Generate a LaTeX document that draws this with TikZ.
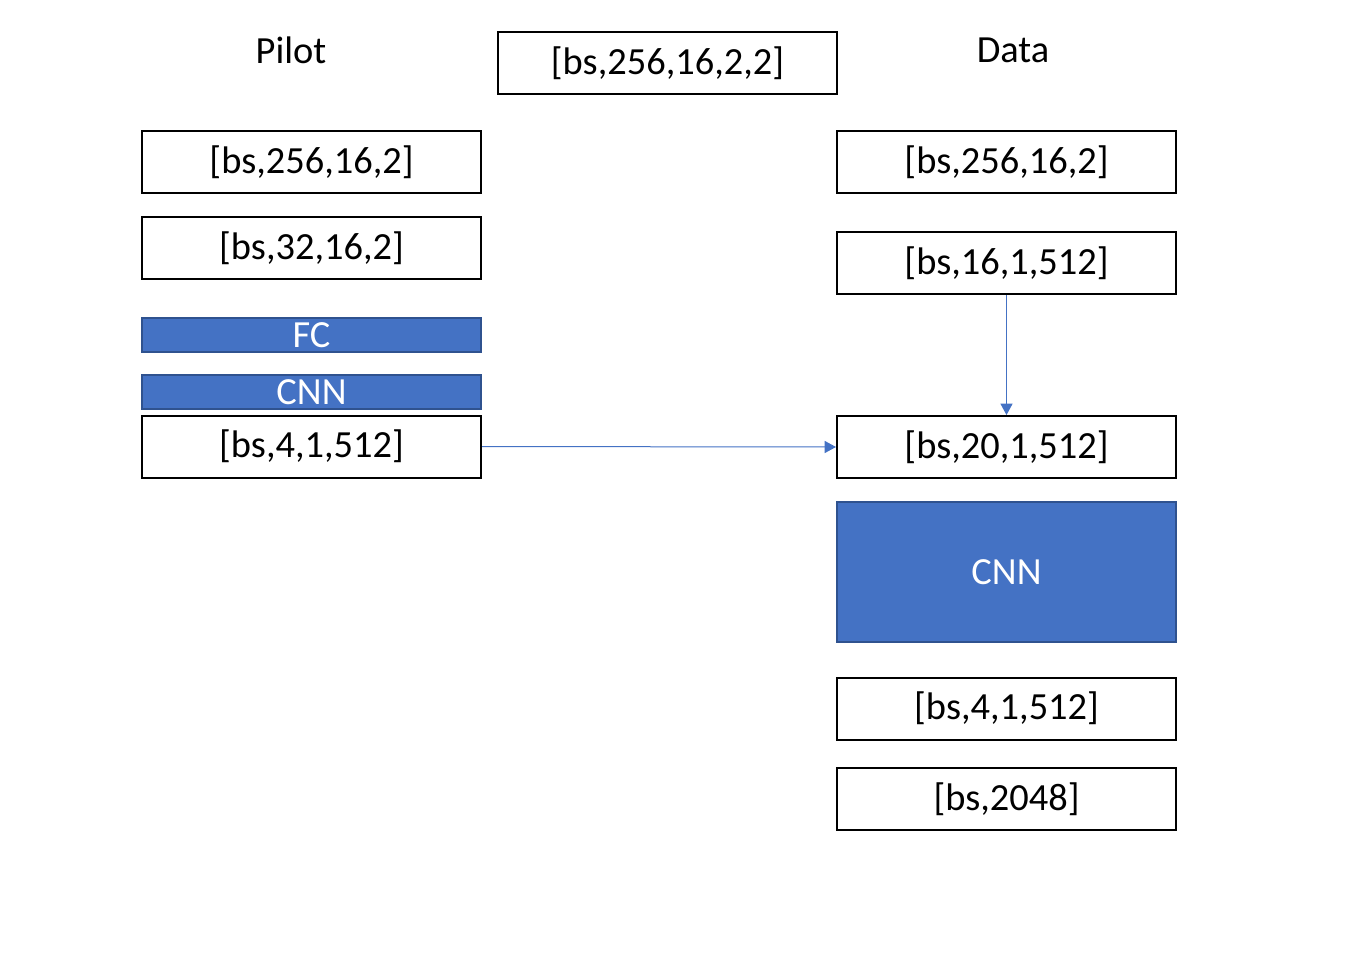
\documentclass[tikz,border=0pt]{standalone}
\usepackage{fontspec}
\setmainfont{Carlito}
\usetikzlibrary{arrows.meta}

\definecolor{layerblue}{HTML}{4472C4}
\definecolor{layeredge}{HTML}{2F528F}

\begin{document}
\begin{tikzpicture}[x=0.75pt, y=-0.75pt,
    every node/.style={font=\fontsize{28.8}{34}\selectfont},
    shapebox/.style={draw=black, fill=white, line width=1.5pt, inner sep=0pt,
        minimum width=254.25pt, minimum height=46.5pt},
    layerbar/.style={draw=layeredge, fill=layerblue, text=white, line width=1pt, inner sep=0pt,
        minimum width=254.25pt, minimum height=25.5pt},
    flow/.style={draw=layerblue, line width=0.75pt, -{Triangle[length=8.5pt, width=9pt]}}]

    \useasboundingbox (0,0) rectangle (1348,972);

    % headings
    \node (pilot) at (291,50) {Pilot};
    \node (data) at (1013,50) {Data};
    \node[shapebox] (input) at (667.5,63) {[bs,256,16,2,2]};

    % pilot branch
    \node[shapebox] (p1) at (311.5,162) {[bs,256,16,2]};
    \node[shapebox] (p2) at (311.5,248) {[bs,32,16,2]};
    \node[layerbar] (pfc) at (311.5,335) {FC};
    \node[layerbar] (pcnn) at (311.5,392) {CNN};
    \node[shapebox] (p3) at (311.5,446.5) {[bs,4,1,512]};

    % data branch
    \node[shapebox] (d1) at (1006.5,162) {[bs,256,16,2]};
    \node[shapebox] (d2) at (1006.5,263) {[bs,16,1,512]};
    \node[shapebox] (d3) at (1006.5,447) {[bs,20,1,512]};
    \node[draw=layeredge, fill=layerblue, text=white, line width=1pt, inner sep=0pt,
        minimum width=254.25pt, minimum height=105pt] (dcnn) at (1006.5,572) {CNN};
    \node[shapebox] (d4) at (1006.5,708.5) {[bs,4,1,512]};
    \node[shapebox] (d5) at (1006.5,799) {[bs,2048]};

    % connectors
    \draw[flow] (p3.east) -- (d3.west);
    \draw[flow] (d2.south) -- (d3.north);

\end{tikzpicture}
\end{document}
